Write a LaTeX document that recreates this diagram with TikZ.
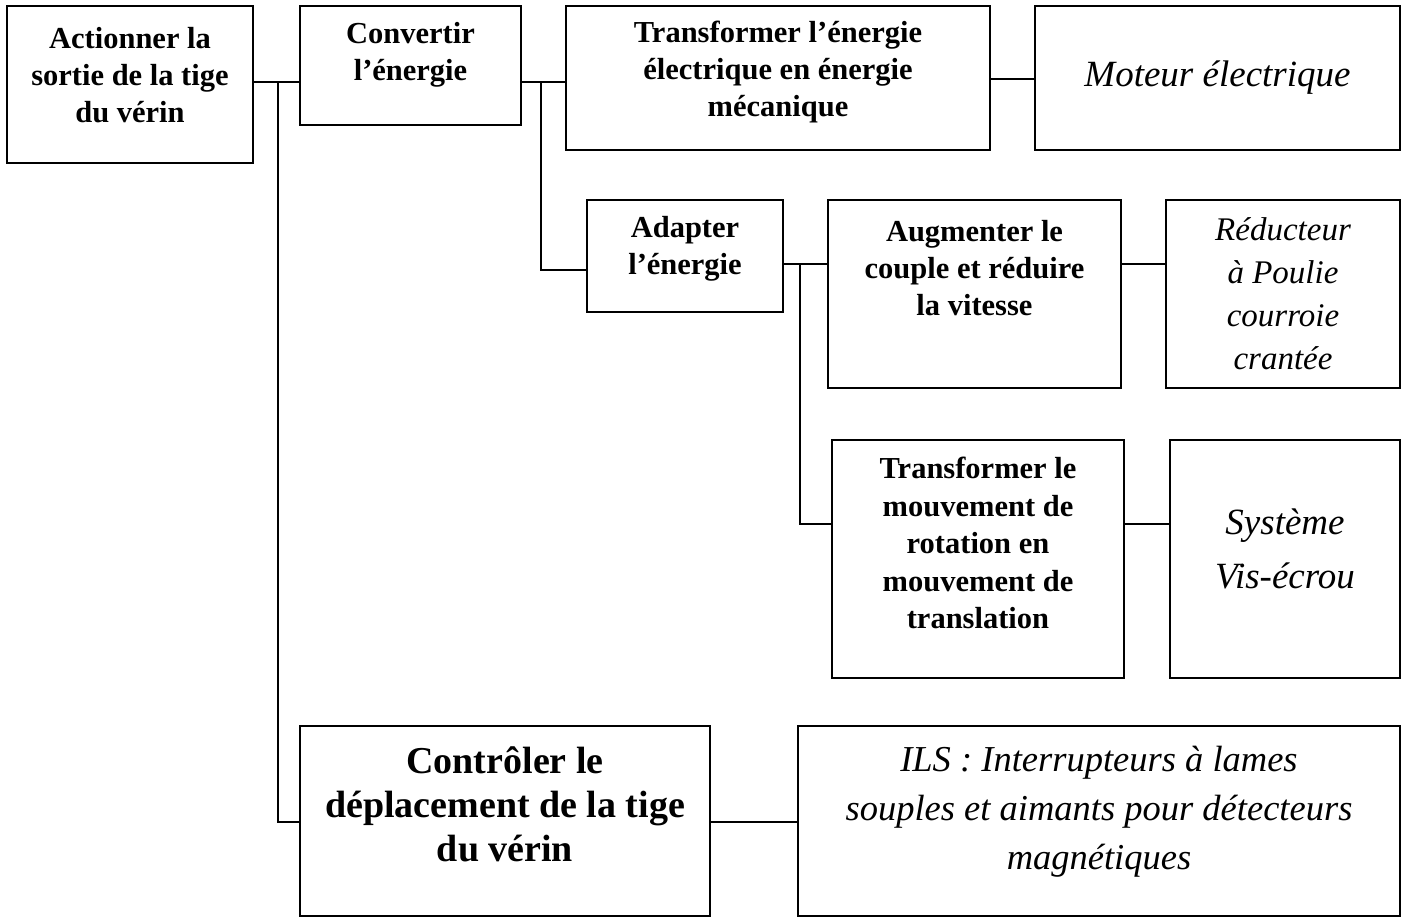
\documentclass[tikz,border=0pt]{standalone}
\usepackage{fontspec}
\setmainfont{Liberation Serif}
\begin{document}
\begin{tikzpicture}[x=1pt,y=-1pt,
  boxst/.style={draw, line width=2.2pt, rectangle, inner sep=0pt},
  bt/.style={align=center, font=\fontsize{30.5}{37}\selectfont\bfseries, inner sep=0pt},
  btbig/.style={align=center, font=\fontsize{38}{44}\selectfont\bfseries, inner sep=0pt},
  it/.style={align=center, font=\fontsize{36}{43}\selectfont\itshape, inner sep=0pt},
  wire/.style={line width=2.2pt}]
\useasboundingbox (0,0) rectangle (1408,919);
% boxes
\node[boxst, minimum width=246, minimum height=157] (A) at (130,84.5) {};
\node[boxst, minimum width=221, minimum height=119] (B) at (410.5,65.5) {};
\node[boxst, minimum width=424, minimum height=144] (C) at (778,78) {};
\node[boxst, minimum width=365, minimum height=144] (D) at (1217.5,78) {};
\node[boxst, minimum width=196, minimum height=112] (E) at (685,256) {};
\node[boxst, minimum width=293, minimum height=188] (F) at (974.5,294) {};
\node[boxst, minimum width=234, minimum height=188] (G) at (1283,294) {};
\node[boxst, minimum width=292, minimum height=238] (H) at (978,559) {};
\node[boxst, minimum width=230, minimum height=238] (I) at (1285,559) {};
\node[boxst, minimum width=410, minimum height=190] (J) at (505,821) {};
\node[boxst, minimum width=602, minimum height=190] (K) at (1099,821) {};
% texts
\node[bt] (At) at (130,75) {Actionner la\\sortie de la tige\\du vérin};
\node[bt] (Bt) at (410.5,55) {Convertir\\l’énergie};
\node[bt] (Ct) at (778,72) {Transformer l’énergie\\électrique en énergie\\mécanique};
\node[it, font=\fontsize{37}{43}\selectfont\itshape] (Dt) at (1217.5,78) {Moteur électrique};
\node[bt] (Et) at (685,249) {Adapter\\l’énergie};
\node[bt] (Ft) at (974.5,268) {Augmenter le\\couple et réduire\\la vitesse};
\node[it, font=\fontsize{33}{43}\selectfont\itshape] (Gt) at (1283,294) {Réducteur\\à Poulie\\courroie\\crantée};
\node[bt, font=\fontsize{30.5}{37.5}\selectfont\bfseries] (Ht) at (978,543) {Transformer le\\mouvement de\\rotation en\\mouvement de\\translation};
\node[it, font=\fontsize{37}{54}\selectfont\itshape] (It) at (1285,549) {Système\\Vis-écrou};
\node[btbig] (Jt) at (505,804) {Contrôler le\\déplacement de la tige\\du vérin};
\node[it, font=\fontsize{36.5}{49}\selectfont\itshape] (Kt) at (1099,812) {ILS : Interrupteurs à lames\\souples et aimants pour détecteurs\\magnétiques};
% connectors
\coordinate (j1) at (278,82);
\coordinate (j2) at (541,82);
\coordinate (j3) at (800,264);
\draw[wire] (A.east |- j1) -- (B.west |- j1);
\draw[wire] (j1) |- (J.west |- 0,822);
\draw[wire] (B.east |- j2) -- (C.west |- j2);
\draw[wire] (j2) |- (E.west |- 0,270);
\draw[wire] (C.east |- 0,79) -- (D.west |- 0,79);
\draw[wire] (E.east |- j3) -- (F.west |- j3);
\draw[wire] (j3) |- (H.west |- 0,524);
\draw[wire] (F.east |- j3) -- (G.west |- j3);
\draw[wire] (H.east |- 0,524) -- (I.west |- 0,524);
\draw[wire] (J.east |- 0,822) -- (K.west |- 0,822);
\end{tikzpicture}
\end{document}
